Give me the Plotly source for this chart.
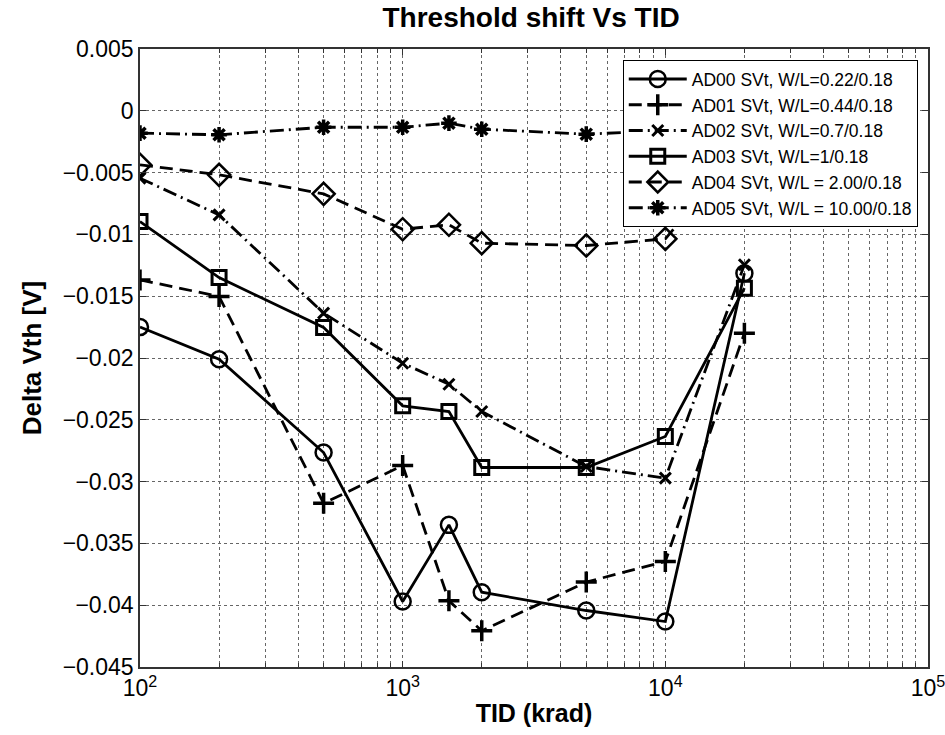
import plotly.graph_objects as go

tid = [100, 200, 500, 1000, 1500, 2000, 5000, 10000, 20000]

ad00 = [-0.0175, -0.0201, -0.02765, -0.0397, -0.0335, -0.03895, -0.04043, -0.04132, -0.01314]
ad01 = [-0.01368, -0.01502, -0.03175, -0.0287, -0.03965, -0.04207, -0.03813, -0.03646, -0.01799]
ad02 = [-0.00545, -0.00842, -0.01637, -0.02042, -0.02212, -0.02433, -0.02878, -0.02972, -0.01246]
ad03 = [-0.00896, -0.01349, -0.01753, -0.02387, -0.02433, -0.02886, -0.02886, -0.02635, -0.01435]
ad04 = [-0.00437, -0.00518, -0.00672, -0.00958, -0.00922, -0.01071, -0.0109, -0.01036, -0.0028]
ad05 = [-0.00181, -0.00194, -0.00133, -0.00133, -0.0010, -0.00149, -0.00189, -0.0016, -0.0014]

names = [
    "AD00 SVt, W/L=0.22/0.18",
    "AD01 SVt, W/L=0.44/0.18",
    "AD02 SVt, W/L=0.7/0.18",
    "AD03 SVt, W/L=1/0.18",
    "AD04 SVt, W/L = 2.00/0.18",
    "AD05 SVt, W/L = 10.00/0.18",
]

y_tickvals = [0.005, 0, -0.005, -0.01, -0.015, -0.02, -0.025, -0.03, -0.035, -0.04, -0.045]
y_ticktext = ["0.005", "0", "\u22120.005", "\u22120.01", "\u22120.015", "\u22120.02",
              "\u22120.025", "\u22120.03", "\u22120.035", "\u22120.04", "\u22120.045"]
x_tickvals = [100, 1000, 10000, 100000]
x_ticktext = ["10<sup>2</sup>", "10<sup>3</sup>", "10<sup>4</sup>", "10<sup>5</sup>"]

series = [ad00, ad01, ad02, ad03, ad04, ad05]
dashes = ["solid", "13px,7px", "14px,5px,2px,5px", "solid", "13px,7px", "14px,5px,2px,5px"]
symbols = ["circle-open", "cross-thin-open", "x-thin-open", "square-open", "diamond-open", "asterisk-open"]
sizes = [16, 15, 11, 14, 17, 13]
mlw = [2.5, 3.5, 3, 3, 2.5, 3.5]

fig = go.Figure()
for s, n, d, sym, sz, lw in zip(series, names, dashes, symbols, sizes, mlw):
    fig.add_trace(go.Scatter(
        x=tid, y=s, name=n, mode="lines+markers",
        line=dict(color="black", width=2.8, dash=d),
        marker=dict(symbol=sym, size=sz, color="black", line=dict(color="black", width=lw)),
    ))

font_family = "Liberation Sans, Arial, sans-serif"
fig.update_layout(
    width=945, height=735,
    margin=dict(l=140, r=17, t=49, b=68),
    paper_bgcolor="white", plot_bgcolor="white",
    font=dict(family=font_family, color="black"),
    title=dict(text="<b>Threshold shift Vs TID</b>", x=0.562, xanchor="center",
               y=0.977, yanchor="middle", font=dict(size=28)),
    showlegend=True,
    legend=dict(x=0.987, y=0.982, xanchor="right", yanchor="top",
                bgcolor="white", bordercolor="black", borderwidth=1,
                font=dict(size=17.5), tracegroupgap=0, itemwidth=58),
)
fig.update_xaxes(
    type="log", range=[2, 5], automargin=False, ticklabeloverflow="allow",
    tickvals=x_tickvals, ticktext=x_ticktext,
    tickfont=dict(size=23),
    showline=True, linecolor="#333", linewidth=1.5, mirror="ticks",
    ticks="inside", ticklen=6, tickcolor="#333",
    showgrid=True, gridcolor="#666", gridwidth=1, griddash="dot",
    minor=dict(showgrid=True, gridcolor="#666", gridwidth=1, griddash="dot",
               ticks="inside", ticklen=4, tickcolor="#333", dtick="D1"),
    zeroline=False,
    title=dict(text="<b>TID (krad)</b>", font=dict(size=25), standoff=4),
)
fig.update_yaxes(
    range=[-0.045, 0.005], automargin=False,
    tickvals=y_tickvals, ticktext=y_ticktext,
    tickfont=dict(size=23),
    showline=True, linecolor="#333", linewidth=1.5, mirror="ticks",
    ticks="inside", ticklen=6, tickcolor="#333",
    showgrid=True, gridcolor="#666", gridwidth=1, griddash="dot",
    zeroline=False,
    title=dict(text="<b>Delta Vth [V]</b>", font=dict(size=26), standoff=14),
)

fig.write_html("out.html")
